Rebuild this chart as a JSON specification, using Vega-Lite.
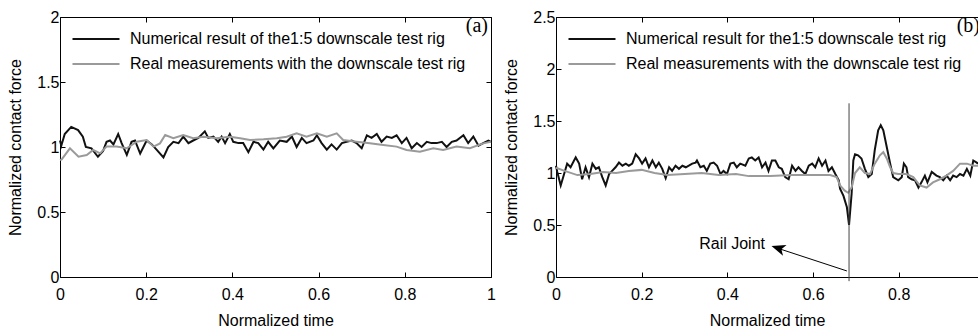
{
"$schema": "https://vega.github.io/schema/vega-lite/v6.json",
"background": "white",
"padding": {"left": 7, "top": 9, "right": 0, "bottom": 0},
"config": {
  "font": "Liberation Sans",
  "view": {"stroke": null},
  "concat": {"spacing": 7},
  "axis": {"grid": false, "domainColor": "#000", "tickColor": "#000", "labelColor": "#000", "titleColor": "#000", "labelFontSize": 16, "titleFontSize": 16, "titleFontWeight": "normal", "tickSize": -5, "labelFont": "Liberation Sans", "titleFont": "Liberation Sans", "labelPadding": 6, "format": "~g", "labelFlush": false, "labelOverlap": false},
  "axisY": {"titlePadding": 13},
  "axisX": {"labelPadding": 14, "titlePadding": 10},
  "legend": {"symbolType": "M-4.7,0L4.7,0", "symbolSize": 100, "symbolStrokeWidth": 2, "labelFontSize": 16, "labelFont": "Liberation Sans", "labelColor": "#000", "labelOffset": 26, "rowPadding": 9, "padding": 0, "labelLimit": 0}
},
"datasets": {
  "left": [
    {"t":0.0,"f":1.05,"s":"num"},{"t":0.003,"f":1.01,"s":"num"},{"t":0.011,"f":1.10,"s":"num"},{"t":0.026,"f":1.155,"s":"num"},{"t":0.042,"f":1.13,"s":"num"},{"t":0.053,"f":1.08,"s":"num"},{"t":0.060,"f":1.00,"s":"num"},{"t":0.073,"f":0.99,"s":"num"},{"t":0.088,"f":0.925,"s":"num"},{"t":0.100,"f":0.97,"s":"num"},{"t":0.108,"f":1.04,"s":"num"},{"t":0.116,"f":1.05,"s":"num"},{"t":0.124,"f":1.02,"s":"num"},{"t":0.135,"f":1.10,"s":"num"},{"t":0.143,"f":1.03,"s":"num"},{"t":0.155,"f":0.94,"s":"num"},{"t":0.166,"f":1.04,"s":"num"},{"t":0.174,"f":1.05,"s":"num"},{"t":0.186,"f":0.95,"s":"num"},{"t":0.201,"f":1.05,"s":"num"},{"t":0.213,"f":1.02,"s":"num"},{"t":0.224,"f":0.98,"s":"num"},{"t":0.240,"f":0.92,"s":"num"},{"t":0.251,"f":1.00,"s":"num"},{"t":0.263,"f":1.04,"s":"num"},{"t":0.275,"f":1.03,"s":"num"},{"t":0.286,"f":1.08,"s":"num"},{"t":0.298,"f":1.03,"s":"num"},{"t":0.309,"f":1.05,"s":"num"},{"t":0.321,"f":1.07,"s":"num"},{"t":0.336,"f":1.12,"s":"num"},{"t":0.344,"f":1.07,"s":"num"},{"t":0.356,"f":1.08,"s":"num"},{"t":0.367,"f":1.04,"s":"num"},{"t":0.375,"f":1.08,"s":"num"},{"t":0.383,"f":1.03,"s":"num"},{"t":0.394,"f":1.10,"s":"num"},{"t":0.402,"f":1.04,"s":"num"},{"t":0.414,"f":1.03,"s":"num"},{"t":0.425,"f":1.03,"s":"num"},{"t":0.437,"f":0.96,"s":"num"},{"t":0.449,"f":1.04,"s":"num"},{"t":0.460,"f":1.03,"s":"num"},{"t":0.472,"f":0.98,"s":"num"},{"t":0.483,"f":1.04,"s":"num"},{"t":0.495,"f":0.99,"s":"num"},{"t":0.510,"f":1.05,"s":"num"},{"t":0.526,"f":1.04,"s":"num"},{"t":0.538,"f":1.08,"s":"num"},{"t":0.549,"f":1.00,"s":"num"},{"t":0.561,"f":1.07,"s":"num"},{"t":0.572,"f":1.03,"s":"num"},{"t":0.588,"f":1.05,"s":"num"},{"t":0.596,"f":1.09,"s":"num"},{"t":0.607,"f":1.03,"s":"num"},{"t":0.619,"f":0.98,"s":"num"},{"t":0.630,"f":1.02,"s":"num"},{"t":0.642,"f":0.98,"s":"num"},{"t":0.654,"f":1.03,"s":"num"},{"t":0.665,"f":1.04,"s":"num"},{"t":0.677,"f":1.05,"s":"num"},{"t":0.688,"f":1.03,"s":"num"},{"t":0.700,"f":0.99,"s":"num"},{"t":0.712,"f":1.09,"s":"num"},{"t":0.723,"f":1.07,"s":"num"},{"t":0.735,"f":1.10,"s":"num"},{"t":0.746,"f":1.04,"s":"num"},{"t":0.758,"f":1.08,"s":"num"},{"t":0.770,"f":1.07,"s":"num"},{"t":0.781,"f":1.09,"s":"num"},{"t":0.793,"f":1.03,"s":"num"},{"t":0.804,"f":1.07,"s":"num"},{"t":0.816,"f":0.99,"s":"num"},{"t":0.828,"f":1.03,"s":"num"},{"t":0.839,"f":1.00,"s":"num"},{"t":0.851,"f":1.04,"s":"num"},{"t":0.862,"f":1.03,"s":"num"},{"t":0.874,"f":1.03,"s":"num"},{"t":0.886,"f":1.04,"s":"num"},{"t":0.897,"f":1.00,"s":"num"},{"t":0.909,"f":1.04,"s":"num"},{"t":0.920,"f":1.05,"s":"num"},{"t":0.936,"f":1.09,"s":"num"},{"t":0.947,"f":1.03,"s":"num"},{"t":0.959,"f":1.08,"s":"num"},{"t":0.971,"f":1.01,"s":"num"},{"t":0.982,"f":1.03,"s":"num"},{"t":0.994,"f":1.05,"s":"num"},{"t":1.0,"f":1.04,"s":"num"},
    {"t":0.0,"f":0.90,"s":"real"},{"t":0.004,"f":0.905,"s":"real"},{"t":0.023,"f":0.99,"s":"real"},{"t":0.043,"f":0.926,"s":"real"},{"t":0.062,"f":0.938,"s":"real"},{"t":0.077,"f":0.977,"s":"real"},{"t":0.093,"f":0.951,"s":"real"},{"t":0.108,"f":1.003,"s":"real"},{"t":0.131,"f":1.003,"s":"real"},{"t":0.155,"f":0.99,"s":"real"},{"t":0.178,"f":1.041,"s":"real"},{"t":0.201,"f":1.054,"s":"real"},{"t":0.217,"f":1.003,"s":"real"},{"t":0.232,"f":1.028,"s":"real"},{"t":0.244,"f":1.092,"s":"real"},{"t":0.263,"f":1.067,"s":"real"},{"t":0.286,"f":1.092,"s":"real"},{"t":0.309,"f":1.067,"s":"real"},{"t":0.333,"f":1.079,"s":"real"},{"t":0.363,"f":1.067,"s":"real"},{"t":0.394,"f":1.079,"s":"real"},{"t":0.418,"f":1.067,"s":"real"},{"t":0.441,"f":1.054,"s":"real"},{"t":0.472,"f":1.059,"s":"real"},{"t":0.503,"f":1.067,"s":"real"},{"t":0.526,"f":1.079,"s":"real"},{"t":0.549,"f":1.105,"s":"real"},{"t":0.572,"f":1.079,"s":"real"},{"t":0.596,"f":1.105,"s":"real"},{"t":0.619,"f":1.079,"s":"real"},{"t":0.642,"f":1.105,"s":"real"},{"t":0.657,"f":1.054,"s":"real"},{"t":0.688,"f":1.041,"s":"real"},{"t":0.719,"f":1.028,"s":"real"},{"t":0.750,"f":1.015,"s":"real"},{"t":0.781,"f":1.003,"s":"real"},{"t":0.804,"f":0.977,"s":"real"},{"t":0.835,"f":0.964,"s":"real"},{"t":0.866,"f":0.99,"s":"real"},{"t":0.889,"f":0.977,"s":"real"},{"t":0.920,"f":1.003,"s":"real"},{"t":0.951,"f":0.99,"s":"real"},{"t":0.982,"f":1.028,"s":"real"},{"t":1.0,"f":1.041,"s":"real"}
  ],
  "right": [
    {"t":0.0,"f":1.07,"s":"num"},{"t":0.003,"f":1.01,"s":"num"},{"t":0.011,"f":0.88,"s":"num"},{"t":0.026,"f":1.09,"s":"num"},{"t":0.034,"f":1.055,"s":"num"},{"t":0.046,"f":1.15,"s":"num"},{"t":0.054,"f":1.09,"s":"num"},{"t":0.061,"f":0.94,"s":"num"},{"t":0.069,"f":1.055,"s":"num"},{"t":0.077,"f":0.96,"s":"num"},{"t":0.085,"f":1.09,"s":"num"},{"t":0.093,"f":1.04,"s":"num"},{"t":0.100,"f":1.055,"s":"num"},{"t":0.108,"f":0.96,"s":"num"},{"t":0.116,"f":0.88,"s":"num"},{"t":0.124,"f":0.99,"s":"num"},{"t":0.131,"f":1.02,"s":"num"},{"t":0.139,"f":1.055,"s":"num"},{"t":0.147,"f":1.10,"s":"num"},{"t":0.155,"f":1.07,"s":"num"},{"t":0.163,"f":1.09,"s":"num"},{"t":0.170,"f":1.07,"s":"num"},{"t":0.178,"f":1.09,"s":"num"},{"t":0.186,"f":1.18,"s":"num"},{"t":0.194,"f":1.14,"s":"num"},{"t":0.201,"f":1.09,"s":"num"},{"t":0.209,"f":1.14,"s":"num"},{"t":0.217,"f":1.055,"s":"num"},{"t":0.225,"f":1.12,"s":"num"},{"t":0.233,"f":1.055,"s":"num"},{"t":0.240,"f":1.10,"s":"num"},{"t":0.248,"f":1.04,"s":"num"},{"t":0.256,"f":0.95,"s":"num"},{"t":0.264,"f":1.055,"s":"num"},{"t":0.271,"f":1.02,"s":"num"},{"t":0.279,"f":1.07,"s":"num"},{"t":0.287,"f":1.04,"s":"num"},{"t":0.295,"f":1.07,"s":"num"},{"t":0.303,"f":1.055,"s":"num"},{"t":0.310,"f":1.07,"s":"num"},{"t":0.318,"f":1.09,"s":"num"},{"t":0.326,"f":1.10,"s":"num"},{"t":0.329,"f":1.12,"s":"num"},{"t":0.337,"f":1.055,"s":"num"},{"t":0.345,"f":1.07,"s":"num"},{"t":0.352,"f":1.02,"s":"num"},{"t":0.360,"f":1.09,"s":"num"},{"t":0.368,"f":1.10,"s":"num"},{"t":0.376,"f":1.07,"s":"num"},{"t":0.384,"f":0.99,"s":"num"},{"t":0.391,"f":1.02,"s":"num"},{"t":0.399,"f":0.99,"s":"num"},{"t":0.407,"f":1.09,"s":"num"},{"t":0.415,"f":1.10,"s":"num"},{"t":0.422,"f":1.055,"s":"num"},{"t":0.430,"f":1.09,"s":"num"},{"t":0.442,"f":1.07,"s":"num"},{"t":0.450,"f":1.14,"s":"num"},{"t":0.457,"f":1.15,"s":"num"},{"t":0.465,"f":1.12,"s":"num"},{"t":0.473,"f":1.15,"s":"num"},{"t":0.481,"f":1.055,"s":"num"},{"t":0.489,"f":1.10,"s":"num"},{"t":0.496,"f":1.02,"s":"num"},{"t":0.504,"f":1.12,"s":"num"},{"t":0.512,"f":1.12,"s":"num"},{"t":0.520,"f":1.055,"s":"num"},{"t":0.527,"f":1.04,"s":"num"},{"t":0.535,"f":0.96,"s":"num"},{"t":0.543,"f":0.94,"s":"num"},{"t":0.551,"f":1.07,"s":"num"},{"t":0.559,"f":1.02,"s":"num"},{"t":0.566,"f":1.055,"s":"num"},{"t":0.574,"f":1.02,"s":"num"},{"t":0.582,"f":0.99,"s":"num"},{"t":0.590,"f":1.07,"s":"num"},{"t":0.598,"f":1.09,"s":"num"},{"t":0.605,"f":1.055,"s":"num"},{"t":0.613,"f":1.14,"s":"num"},{"t":0.621,"f":1.07,"s":"num"},{"t":0.629,"f":1.12,"s":"num"},{"t":0.636,"f":1.02,"s":"num"},{"t":0.644,"f":1.055,"s":"num"},{"t":0.652,"f":0.99,"s":"num"},{"t":0.660,"f":0.93,"s":"num"},{"t":0.663,"f":0.85,"s":"num"},{"t":0.671,"f":0.78,"s":"num"},{"t":0.679,"f":0.67,"s":"num"},{"t":0.684,"f":0.50,"s":"num"},{"t":0.690,"f":0.80,"s":"num"},{"t":0.694,"f":1.12,"s":"num"},{"t":0.698,"f":1.18,"s":"num"},{"t":0.705,"f":1.17,"s":"num"},{"t":0.713,"f":1.14,"s":"num"},{"t":0.721,"f":1.04,"s":"num"},{"t":0.729,"f":0.96,"s":"num"},{"t":0.737,"f":0.99,"s":"num"},{"t":0.744,"f":1.22,"s":"num"},{"t":0.752,"f":1.41,"s":"num"},{"t":0.758,"f":1.46,"s":"num"},{"t":0.764,"f":1.41,"s":"num"},{"t":0.772,"f":1.25,"s":"num"},{"t":0.780,"f":1.09,"s":"num"},{"t":0.787,"f":0.96,"s":"num"},{"t":0.799,"f":0.93,"s":"num"},{"t":0.807,"f":0.96,"s":"num"},{"t":0.812,"f":1.09,"s":"num"},{"t":0.818,"f":1.055,"s":"num"},{"t":0.822,"f":0.96,"s":"num"},{"t":0.830,"f":0.94,"s":"num"},{"t":0.838,"f":0.93,"s":"num"},{"t":0.846,"f":0.86,"s":"num"},{"t":0.853,"f":0.91,"s":"num"},{"t":0.861,"f":0.975,"s":"num"},{"t":0.867,"f":0.91,"s":"num"},{"t":0.877,"f":1.01,"s":"num"},{"t":0.888,"f":0.975,"s":"num"},{"t":0.896,"f":0.96,"s":"num"},{"t":0.904,"f":0.93,"s":"num"},{"t":0.912,"f":0.975,"s":"num"},{"t":0.920,"f":0.93,"s":"num"},{"t":0.927,"f":0.975,"s":"num"},{"t":0.935,"f":0.96,"s":"num"},{"t":0.943,"f":0.99,"s":"num"},{"t":0.951,"f":0.975,"s":"num"},{"t":0.959,"f":1.04,"s":"num"},{"t":0.967,"f":0.975,"s":"num"},{"t":0.974,"f":1.12,"s":"num"},{"t":0.982,"f":1.10,"s":"num"},{"t":0.985,"f":1.09,"s":"num"},
    {"t":0.0,"f":1.05,"s":"real"},{"t":0.02,"f":1.02,"s":"real"},{"t":0.05,"f":0.98,"s":"real"},{"t":0.08,"f":0.99,"s":"real"},{"t":0.11,"f":1.01,"s":"real"},{"t":0.14,"f":1.0,"s":"real"},{"t":0.17,"f":1.02,"s":"real"},{"t":0.2,"f":1.03,"s":"real"},{"t":0.23,"f":1.0,"s":"real"},{"t":0.26,"f":0.98,"s":"real"},{"t":0.3,"f":0.99,"s":"real"},{"t":0.34,"f":1.0,"s":"real"},{"t":0.38,"f":0.98,"s":"real"},{"t":0.42,"f":0.99,"s":"real"},{"t":0.45,"f":0.97,"s":"real"},{"t":0.5,"f":0.97,"s":"real"},{"t":0.55,"f":0.98,"s":"real"},{"t":0.6,"f":0.98,"s":"real"},{"t":0.64,"f":0.98,"s":"real"},{"t":0.655,"f":0.96,"s":"real"},{"t":0.663,"f":0.88,"s":"real"},{"t":0.674,"f":0.83,"s":"real"},{"t":0.682,"f":0.81,"s":"real"},{"t":0.690,"f":0.86,"s":"real"},{"t":0.698,"f":1.0,"s":"real"},{"t":0.709,"f":1.055,"s":"real"},{"t":0.721,"f":1.0,"s":"real"},{"t":0.733,"f":0.99,"s":"real"},{"t":0.744,"f":1.09,"s":"real"},{"t":0.756,"f":1.17,"s":"real"},{"t":0.764,"f":1.20,"s":"real"},{"t":0.772,"f":1.14,"s":"real"},{"t":0.780,"f":1.055,"s":"real"},{"t":0.787,"f":1.0,"s":"real"},{"t":0.799,"f":0.99,"s":"real"},{"t":0.818,"f":0.99,"s":"real"},{"t":0.834,"f":0.96,"s":"real"},{"t":0.849,"f":0.88,"s":"real"},{"t":0.865,"f":0.86,"s":"real"},{"t":0.880,"f":0.91,"s":"real"},{"t":0.896,"f":0.94,"s":"real"},{"t":0.911,"f":0.975,"s":"real"},{"t":0.927,"f":1.02,"s":"real"},{"t":0.943,"f":1.09,"s":"real"},{"t":0.959,"f":1.09,"s":"real"},{"t":0.974,"f":1.07,"s":"real"},{"t":0.985,"f":1.07,"s":"real"}
  ]
},
"hconcat": [
  {
    "width": 431, "height": 260,
    "title": {"text": "(a)", "anchor": "end", "frame": "group", "offset": -27, "dx": -3, "font": "Liberation Serif", "fontSize": 20, "fontWeight": "normal", "color": "#000"},
    "data": {"name": "left"},
    "layer": [
      {"mark": {"type": "line", "strokeWidth": 2},
       "encoding": {
         "x": {"field": "t", "type": "quantitative", "scale": {"domain": [0, 1], "nice": false}, "axis": {"values": [0, 0.2, 0.4, 0.6, 0.8, 1], "title": "Normalized time"}},
         "y": {"field": "f", "type": "quantitative", "scale": {"domain": [0, 2], "nice": false}, "axis": {"values": [0, 0.5, 1, 1.5, 2], "title": "Normalized contact force"}},
         "color": {"field": "s", "type": "nominal", "scale": {"domain": ["num", "real"], "range": ["#111111", "#9a9a9a"]},
           "legend": {"orient": "none", "legendX": 28, "legendY": 14, "title": null, "labelExpr": "datum.label == 'num' ? 'Numerical result of the1:5 downscale test rig' : 'Real measurements with the downscale test rig'"}}
       }},
      {"mark": {"type": "point", "opacity": 0},
       "encoding": {
         "x": {"field": "t", "type": "quantitative", "scale": {"domain": [0, 1], "nice": false}, "axis": {"orient": "top", "values": [0, 0.2, 0.4, 0.6, 0.8, 1], "labels": false, "title": null}},
         "y": {"field": "f", "type": "quantitative", "scale": {"domain": [0, 2], "nice": false}, "axis": {"orient": "right", "values": [0, 0.5, 1, 1.5, 2], "labels": false, "title": null}}
       }}
    ],
    "resolve": {"axis": {"x": "independent", "y": "independent"}}
  },
  {
    "width": 422, "height": 260,
    "title": {"text": "(b)", "anchor": "end", "frame": "group", "offset": -27, "dx": 2, "font": "Liberation Serif", "fontSize": 20, "fontWeight": "normal", "color": "#000"},
    "data": {"name": "right"},
    "layer": [
      {"mark": {"type": "line", "strokeWidth": 2},
       "encoding": {
         "x": {"field": "t", "type": "quantitative", "scale": {"domain": [0, 0.985], "nice": false}, "axis": {"values": [0, 0.2, 0.4, 0.6, 0.8], "title": "Normalized time"}},
         "y": {"field": "f", "type": "quantitative", "scale": {"domain": [0, 2.5], "nice": false}, "axis": {"values": [0, 0.5, 1, 1.5, 2, 2.5], "title": "Normalized contact force"}},
         "color": {"field": "s", "type": "nominal", "scale": {"domain": ["num", "real"], "range": ["#111111", "#9a9a9a"]},
           "legend": {"orient": "none", "legendX": 28, "legendY": 14, "title": null, "labelExpr": "datum.label == 'num' ? 'Numerical result for the1:5 downscale test rig' : 'Real measurements with the downscale test rig'"}}
       }},
      {"mark": {"type": "point", "opacity": 0},
       "encoding": {
         "x": {"field": "t", "type": "quantitative", "scale": {"domain": [0, 0.985], "nice": false}, "axis": {"orient": "top", "values": [0, 0.2, 0.4, 0.6, 0.8], "labels": false, "title": null}},
         "y": {"field": "f", "type": "quantitative", "scale": {"domain": [0, 2.5], "nice": false}, "axis": null}
       }},
      {"data": {"values": [{"x": 0.684, "y": -0.04, "y2": 1.67}]},
       "mark": {"type": "rule", "color": "#444", "strokeWidth": 1, "clip": false},
       "encoding": {"x": {"field": "x", "type": "quantitative", "axis": null}, "y": {"field": "y", "type": "quantitative", "axis": null}, "y2": {"field": "y2"}}},
      {"data": {"values": [{"x": 0.679, "y": 0.058, "x2": 0.515, "y2": 0.28}]},
       "mark": {"type": "rule", "color": "#000", "strokeWidth": 1},
       "encoding": {"x": {"field": "x", "type": "quantitative", "axis": null}, "y": {"field": "y", "type": "quantitative", "axis": null}, "x2": {"field": "x2"}, "y2": {"field": "y2"}}},
      {"data": {"values": [{"x": 0.503, "y": 0.298}]},
       "mark": {"type": "point", "shape": "M0,0 L3.5,-1.4 L2.6,0 L3.5,1.4 Z", "size": 64, "filled": true, "color": "#000", "opacity": 1, "angle": 18.4},
       "encoding": {"x": {"field": "x", "type": "quantitative", "axis": null}, "y": {"field": "y", "type": "quantitative", "axis": null}}},
      {"data": {"values": [{"x": 0.411, "y": 0.319, "label": "Rail Joint"}]},
       "mark": {"type": "text", "fontSize": 16, "font": "Liberation Sans", "color": "#000", "align": "center", "baseline": "middle"},
       "encoding": {"x": {"field": "x", "type": "quantitative", "axis": null}, "y": {"field": "y", "type": "quantitative", "axis": null}, "text": {"field": "label"}}}
    ],
    "resolve": {"axis": {"x": "independent", "y": "independent"}}
  }
],
"resolve": {"scale": {"x": "independent", "y": "independent", "color": "independent"}, "legend": {"color": "independent"}}
}
